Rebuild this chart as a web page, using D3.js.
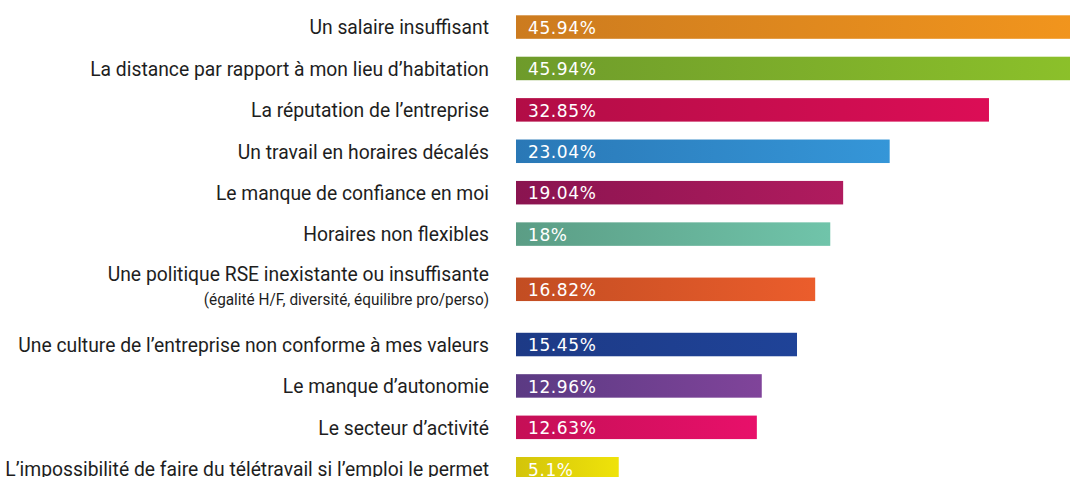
<!DOCTYPE html>
<html>
<head>
<meta charset="utf-8">
<script src="https://cdn.jsdelivr.net/npm/d3@7"></script>
<style>
    body { margin: 0; background: #fff; overflow: hidden; }
    #chart svg { display: block; }
    .label { font-family: Roboto, sans-serif; fill: #1e1e1e; }
    .value { font-family: "DejaVu Sans", sans-serif; fill: #fff; letter-spacing: 0.6px; }
</style>
</head>
<body>
<div id="chart"></div>
<script>
// data
var categories = [
    "Un salaire insuffisant",
    "La distance par rapport à mon lieu d’habitation",
    "La réputation de l’entreprise",
    "Un travail en horaires décalés",
    "Le manque de confiance en moi",
    "Horaires non flexibles",
    "Une politique RSE inexistante ou insuffisante",
    "Une culture de l’entreprise non conforme à mes valeurs",
    "Le manque d’autonomie",
    "Le secteur d’activité",
    "L’impossibilité de faire du télétravail si l’emploi le permet"
]
var subLabels = ["", "", "", "", "", "", "(égalité H/F, diversité, équilibre pro/perso)", "", "", "", ""]
var values = [45.94, 45.94, 32.85, 23.04, 19.04, 18, 16.82, 15.45, 12.96, 12.63, 5.1]
var valueLabels = ["45.94%", "45.94%", "32.85%", "23.04%", "19.04%", "18%", "16.82%", "15.45%", "12.96%", "12.63%", "5.1%"]
var colorsStart = ["#cc7b1f", "#6e9b2b", "#b20d46", "#2a78b6", "#8a1450", "#5b9d85", "#c24d22", "#1d3a86", "#5b3a83", "#c50f56", "#d3c40b"]
var colorsEnd = ["#f3961d", "#8dc22a", "#dc0d56", "#3596d8", "#b01b5e", "#70c4aa", "#eb5d2c", "#1f4398", "#80449a", "#e8106a", "#efe30a"]

var width = 1070
var height = 477
var barX0 = 516
var barH = 23.5
var labelRight = 489
var squeeze = 0.92   // the labels use a narrow font, roboto squeezed a bit

// slot per row, rows with a sub label take a bit more room
var slots = []
var s = 0
for (let i = 0; i < categories.length; i++) {
    if (subLabels[i] != "") s += 1 / 3
    slots.push(s)
    if (subLabels[i] != "") s += 1 / 3
    s += 1
}

var y = d3.scaleLinear()
    .domain([0, slots[slots.length - 1]])
    .range([15.3, 457])

// the bars of the infographic are not proportional, a sqrt scale fits them best
var x = d3.scaleSqrt()
    .domain([0, 50])
    .range([378, 378 + 106.6 * Math.sqrt(50)])

var svg = d3.select("#chart")
    .append("svg")
    .attr("width", width)
    .attr("height", height)

var defs = svg.append("defs")
values.forEach(function(v, i) {
    var g = defs.append("linearGradient")
        .attr("id", "grad" + i)
        .attr("x1", "0%").attr("x2", "100%")
        .attr("y1", "0%").attr("y2", "0%")
    g.append("stop").attr("offset", "0%").attr("stop-color", colorsStart[i])
    g.append("stop").attr("offset", "100%").attr("stop-color", colorsEnd[i])
})

var rows = svg.selectAll("g.row")
    .data(values)
    .enter()
    .append("g")
    .attr("class", "row")
    .attr("transform", function(d, i) { return "translate(0," + y(slots[i]) + ")" })

rows.append("rect")
    .attr("x", barX0)
    .attr("y", 0)
    .attr("width", function(d) { return x(d) - barX0 })
    .attr("height", barH)
    .attr("fill", function(d, i) { return "url(#grad" + i + ")" })

rows.append("text")
    .attr("class", "value")
    .attr("x", barX0 + 12)
    .attr("y", 18.5)
    .style("font-size", "17px")
    .text(function(d, i) { return valueLabels[i] })

rows.append("g")
    .attr("transform", function(d, i) {
        return "translate(" + labelRight + "," + (subLabels[i] != "" ? 3 : 19) + ") scale(" + squeeze + ",1)"
    })
    .append("text")
    .attr("class", "label")
    .attr("text-anchor", "end")
    .style("font-size", "21px")
    .text(function(d, i) { return categories[i] })

rows.each(function(d, i) {
    if (subLabels[i] == "") return
    d3.select(this).append("g")
        .attr("transform", "translate(" + labelRight + ",27) scale(" + squeeze + ",1)")
        .append("text")
        .attr("class", "label")
        .attr("text-anchor", "end")
        .style("font-size", "16.7px")
        .text(subLabels[i])
})
</script>
</body>
</html>
